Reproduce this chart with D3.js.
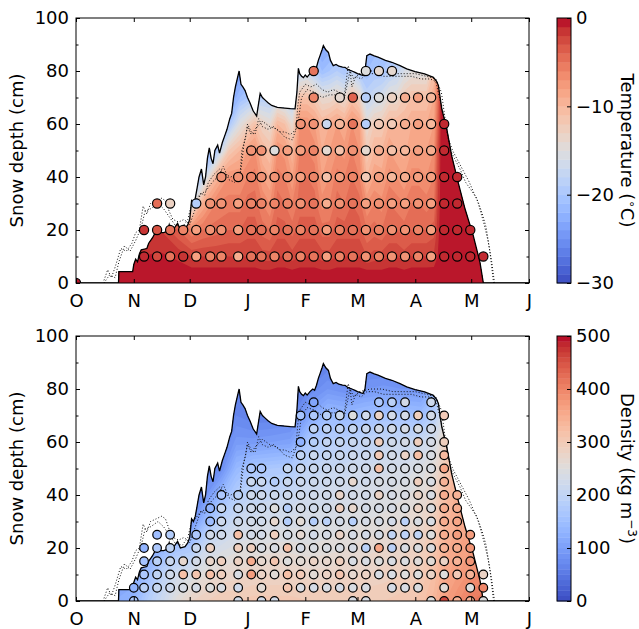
<!DOCTYPE html>
<html>
<head>
<meta charset="utf-8">
<script src="https://cdn.jsdelivr.net/npm/d3@7"></script>
<style>
body{margin:0;background:#fff;}
text{font-family:"DejaVu Sans",sans-serif;}
</style>
</head>
<body>
<script>
var N = null;

// x axis: days since 1 October
var monthDays = [0,31,61,92,123,151,182,212,243];
var monthLabels = ["O","N","D","J","F","M","A","M","J"];

// measured snow depth [day, cm]
var snowDepth = [[0,0],[22.8,0],[23,4.3],[30.4,4.3],[31,7],[32,9],[33,8],[34,11],[35,12.5],[38,13],[39,15],[41,17],
  [42.5,19],[47,19],[49,19.5],[50,22],[51,19.5],[53,21],[54.5,22.5],[56,20],[58.5,20.5],[60,22],[61,24],[62,31],
  [63,30],[64,32],[65,36],[66,40],[67.3,43],[68.5,37],[69.5,40],[70.5,47],[71.5,51],[72.5,47],[73.5,45],[74.5,50],
  [76,52],[77,49],[78.5,53],[80,56],[81,58],[82.5,62],[83.5,64],[84.5,70],[85.5,74],[86.5,77],[87.5,80],[88.5,75],
  [89.5,74],[90.7,72.6],[92,70],[93.3,68],[95,65],[96.9,63],[98,68],[98.8,71.5],[100,70],[101.5,69],[103,68],
  [105,67],[108,66.3],[112,66],[115,65.8],[117.5,65.7],[118.5,72],[119.3,81],[120,79],[121,78],[122,77.5],[123,78.5],
  [124,77.7],[125.5,79],[127,80],[128,79.5],[129,81.4],[130,84],[131,86],[132,88],[132.7,89.6],[134,88],[135.4,87],
  [136.5,84],[138,82],[139.5,82.5],[141,81.8],[143,81.5],[144.3,81.4],[146,80.5],[148,80],[149.7,79.5],[151,79],
  [153,78.5],[154,78.3],[155,80],[156,85.8],[157.7,86.4],[160,85.7],[162,85.2],[166,84],[169.4,83.3],[173.8,82],
  [177.4,80.8],[181.9,79.8],[187,78.9],[191.7,77.6],[193.5,76],[194.4,74.5],[196.2,65.7],[198.9,58.1],[201.5,48.1],
  [205,38],[208.7,27.9],[213.1,17.9],[216.7,7.8],[218.5,0],[243,0]];

// other depth sensors (dotted) [day, cm]
var depthA = [[15,1],[17,5],[19,2],[21,6],[24,13],[27,12],[30,15],[32,19],[34,20],[36,29],[38,26],[40,30],[43,31],
  [46,32],[48,31],[50,27],[52,24],[55,23],[58,24],[61,22],[63,26],[65,30],[67,34],[69,33],[71,38],[74,41],[77,43],
  [80,41],[83,40],[86,41],[88,41],[89,50],[91,55],[92,60],[94,57],[96,56],[98,62],[100,59],[103,58],[106,59],
  [109,57],[112,57],[115,56],[118,58],[119,67],[120,72],[123,75],[126,74],[129,75],[132,73],[135,72],[138,73],
  [141,72],[144,71],[146,82],[147,80],[148,74],[150,78],[153,77],[156,79],[160,79],[165,78],[170,78],[175,78],
  [180,78],[185,77],[190,77],[193,76],[195,70],[197,64],[199,57],[201,50],[203,47],[206,43],[209,38],[212,35],
  [215,32],[217,27],[219,22],[221,16],[223,8],[224.5,0]];
var depthB = [[15,0],[18,3],[21,2],[23,8],[26,14],[29,12],[32,16],[35,21],[37,27],[40,28],[44,30],[47,28],[50,25],
  [53,22],[57,21],[60,24],[62,30],[64,31],[66,33],[70,35],[73,38],[76,40],[79,44],[82,39],[85,38],[88,40],[90,52],
  [92,59],[94,56],[96,58],[100,61],[104,59],[108,58],[112,55],[116,54],[119,60],[121,70],[124,73],[128,72],
  [132,70],[136,71],[140,71],[144,70],[147,80],[149,77],[152,79],[158,80],[164,80],[170,79],[176,79],[182,79],
  [188,78],[193,77],[196,72],[198,62],[200,54],[202,50],[205,46],[208,42],[211,38],[214,33],[216,30],[218,26],
  [220,21],[222,12],[223.5,3],[224,0]];

// temperature field (deg C): one column per day, rows at tHeights
var tDays = [15,25,35,45,55,62,68,75,82,88,92,96,100,104,108,112,116,120,124,128,132,136,140,144,148,152,156,160,
  164,168,172,176,180,184,188,192,194,196,205,220,235];
var tHeights = [0,5,10,20,30,40,50,60,70,80,90];
var tField = [
  [-0.3,-0.5,-1,-2,-3,-3,-3,-3,-3,-3,-3],
  [-0.3,-0.5,-1,-2,-3,-3,-3,-3,-3,-3,-3],
  [-0.3,-0.5,-1,-2,-3,-3,-3,-3,-3,-3,-3],
  [-0.3,-0.5,-0.8,-2,-5,-5,-5,-5,-5,-5,-5],
  [-0.3,-0.6,-1.2,-4,-8,-8,-8,-8,-8,-8,-8],
  [-0.3,-0.8,-2,-6,-16,-21,-22,-22,-22,-22,-22],
  [-0.3,-0.8,-2,-5,-9,-18,-23,-23,-23,-23,-23],
  [-0.3,-0.8,-2,-4.5,-6,-10,-20,-24,-24,-24,-24],
  [-0.3,-0.8,-2,-4,-5.5,-7,-12,-20,-24,-24,-24],
  [-0.3,-0.8,-2,-4,-5.5,-7,-10,-15,-21,-24,-24],
  [-0.3,-0.8,-2,-3.5,-4.5,-6,-8,-13,-20,-23,-23],
  [-0.3,-0.8,-2,-3.5,-4.5,-5.5,-7,-11,-19,-22,-22],
  [-0.3,-1,-2.5,-4.5,-6,-8,-10,-13,-19,-22,-22],
  [-0.3,-1,-2.5,-5,-7,-9,-11,-14,-19,-22,-22],
  [-0.3,-0.8,-2,-3.5,-4.5,-5.5,-7,-10,-17,-21,-21],
  [-0.3,-0.8,-2,-3.5,-5,-6,-7.5,-11,-18,-21,-21],
  [-0.3,-1,-2.5,-4.5,-6,-8,-10,-14,-19,-22,-22],
  [-0.3,-0.8,-2,-3.5,-4.5,-5,-6,-7,-11,-18,-21],
  [-0.3,-0.8,-2,-3.5,-4.5,-5,-6,-7,-11,-17,-21],
  [-0.3,-0.8,-2,-3.5,-4.5,-5.5,-6.5,-8,-12,-19,-22],
  [-0.3,-1,-2.5,-4.5,-6.5,-8,-9,-10,-14,-21,-24],
  [-0.3,-1,-2.5,-4.5,-6,-7,-8,-9,-14,-20,-23],
  [-0.3,-0.8,-2,-3.5,-4.5,-5.5,-7,-8,-13,-19,-22],
  [-0.3,-0.8,-2,-3.5,-5,-6,-7.5,-9,-14,-20,-22],
  [-0.3,-0.8,-2,-3.5,-4,-5,-6,-7,-11,-18,-21],
  [-0.3,-0.8,-2,-3.5,-4.5,-6,-7,-8,-13,-20,-22],
  [-0.3,-1,-3,-5,-7,-10,-12,-14,-18,-21,-23],
  [-0.3,-1,-2.5,-4.5,-6,-8,-10,-12,-17,-20,-22],
  [-0.3,-1,-2.5,-5,-6.5,-8.5,-10,-12,-16,-20,-22],
  [-0.3,-0.8,-2,-4,-5,-6.5,-8,-10,-14,-19,-21],
  [-0.3,-0.8,-2,-4,-5.5,-7,-9,-10,-14,-18,-21],
  [-0.3,-1,-2.5,-4.5,-6,-8,-9.5,-10,-12,-16,-19],
  [-0.3,-0.8,-2,-4,-5,-6.5,-8,-9,-11,-15,-18],
  [-0.3,-0.8,-2,-4,-5,-6.5,-8,-9,-11,-15,-17],
  [-0.3,-0.8,-2,-4,-5.5,-7,-8,-9,-11,-15,-16],
  [-0.3,-0.8,-1.8,-3.5,-5,-6,-7,-8,-9,-11,-14],
  [-0.3,-0.5,-1,-1.5,-2,-2.5,-3,-4,-5,-6,-7],
  [-0.3,-0.3,-0.3,-0.3,-0.3,-0.3,-0.3,-0.3,-0.3,-0.3,-0.3],
  [-0.3,-0.3,-0.3,-0.3,-0.3,-0.3,-0.3,-0.3,-0.3,-0.3,-0.3],
  [-0.3,-0.3,-0.3,-0.3,-0.3,-0.3,-0.3,-0.3,-0.3,-0.3,-0.3],
  [-0.3,-0.3,-0.3,-0.3,-0.3,-0.3,-0.3,-0.3,-0.3,-0.3,-0.3]];

// manual temperature profiles (circles)
var tObsDays = [0,36.5,43.5,50.5,57.5,64.5,72,78,87,94,99.5,106.5,113.5,120.5,127.5,134.5,141.5,148.5,155.5,
  162.5,169.5,176.5,183.5,190.5,197.5,204.5,211.5,218.5];
var tObsHeights = [0,10,20,30,40,50,60,70,80];
var tObs = [
  [-0.5],
  [N,-1,-1.5],
  [N,-2.5,-3,-4.5],
  [N,-5,-5,-13],
  [N,-1.5,-6],
  [N,-8,-8,-19],
  [N,-6,-7,-7],
  [N,-6,-7,-7,-7],
  [N,-9,-8,-8,-7],
  [N,-5,-5,-6,-6,-7],
  [N,-5,-5,-6,-7,-7],
  [N,-6,-6,-6,-7,-15],
  [N,-5,-5,-6,-7,-8],
  [N,-6,-6,-7,-8,-8,-7],
  [N,-5,-5,-5,-6,-6,-7,-6,-5],
  [N,-8,-8,-9,-11,-14,-17],
  [N,-6,-6,-7,-8,-11,-10,-14],
  [N,-5,-5,-5,-6,-7,-5,-4],
  [N,-7,-7,-8,-12,-14,-19,-19,-15],
  [N,-6,-6,-7,-8,-9,-12,-15,-14],
  [N,-7,-7,-8,-10,-11,-12,-13,-14],
  [N,-7,-7,-8,-9,-10,-9,-9],
  [N,-6,-6,-7,-8,-8,-8,-8],
  [N,-8,-8,-8,-8,-9,-10,-10],
  [N,-1,-1,-1,-1,-1,-1],
  [N,-1,-1,-1,-1],
  [N,-1,-1],
  [N,-1]];

// density field (kg m-3)
var dDays = [20,30,38,46,54,62,70,78,86,95,105,115,125,135,145,155,165,175,185,192,198,205,212,220,235];
var dHeights = [0,10,20,30,40,50,60,70,80,90];
var dField = [
  [120,110,100,90,90,90,90,90,90,90],
  [130,110,100,90,90,90,90,90,90,90],
  [180,150,110,90,90,90,90,90,90,90],
  [215,195,130,90,80,80,80,80,80,80],
  [255,225,160,100,80,80,80,80,80,80],
  [280,240,170,90,60,60,60,60,60,60],
  [290,260,220,150,90,60,60,60,60,60],
  [300,270,235,195,140,80,60,60,60,60],
  [300,275,245,215,180,140,95,70,60,60],
  [305,280,250,225,200,165,95,60,60,60],
  [305,280,255,232,205,170,100,60,60,60],
  [305,280,255,235,210,175,105,65,60,60],
  [300,275,252,237,220,200,170,110,70,60],
  [300,275,255,240,225,210,185,145,90,60],
  [300,280,260,245,230,215,190,140,80,60],
  [300,280,265,250,235,222,200,150,90,60],
  [300,285,270,255,240,227,205,160,95,60],
  [305,290,275,262,247,232,210,160,90,60],
  [315,300,287,272,257,242,215,150,90,70],
  [335,322,307,292,277,258,232,185,130,90],
  [370,355,345,335,325,305,280,250,200,160],
  [390,370,360,352,345,335,320,300,280,260],
  [410,385,370,360,350,340,330,320,300,280],
  [420,395,380,370,360,350,340,330,320,300],
  [420,395,380,370,360,350,340,330,320,300]];

// manual density profiles (circles)
var dObsDays = [31,36.5,43.5,50.5,57.5,64.5,72,78,87,94,99.5,106.5,113.5,120.5,127.5,134.5,141.5,148.5,155.5,
  162.5,169.5,176.5,183.5,190.5,197.5,204.5,211.5,218.5];
var dObsHeights = [0,5,10,15,20,25,30,35,40,45,50,55,60,65,70,75];
var dObs = [
  [170,130],
  [N,190,170,160,130],
  [N,210,200,190,170,150],
  [N,220,225,215,200,180],
  [N,235,320,270],
  [N,235,310,230,215,170],
  [N,250,320,275,285,225,150,130],
  [N,240,290,290,N,225,220,215,170],
  [230,225,240,285,290,320,225,215,190],
  [N,N,370,350,290,230,230,225,220,215,170],
  [230,260,280,270,240,230,225,220,220,215,170],
  [230,N,260,310,240,290,270,250,220,180],
  [N,310,320,250,320,235,180,185,220,215,210],
  [N,240,300,260,235,265,260,235,225,220,220,200,130,N,160],
  [N,235,260,280,240,230,180,225,225,220,215,215,185,200,170,110],
  [N,240,280,270,240,235,190,225,225,220,215,210,205,200,185],
  [N,235,310,290,240,280,230,290,275,225,220,215,210,205,215],
  [240,240,265,240,235,235,185,270,230,270,225,220,215,210,250],
  [240,240,280,240,190,230,235,230,230,225,225,220,215,215,225],
  [N,N,240,250,360,235,235,235,280,240,320,300,290,230,280,170],
  [N,235,240,240,190,200,230,235,235,235,230,230,225,230,230,190],
  [N,240,250,245,240,195,190,240,240,240,240,280,235,235,235,230],
  [N,245,250,255,245,200,240,280,280,290,240,320,290,240,290],
  [250,N,280,260,245,250,240,245,240,240,240,240,235,230,230,220],
  [460,260,250,280,340,350,350,350,350,340,360,330,290,N,300],
  [340,N,300,340,350,370,360,350,340],
  [340,250,340,380,380,370],
  [250,400,280]];

var yTicks = [0,20,40,60,80,100];
var yMinor = [10,30,50,70,90];

// matplotlib coolwarm
var cwStops = [[59,76,192],[68,90,204],[77,104,215],[87,117,225],[98,130,234],[108,142,241],[119,154,247],
  [130,165,251],[141,176,254],[152,185,255],[163,194,255],[174,201,253],[184,208,249],[194,213,244],[204,217,238],
  [213,219,230],[221,221,221],[229,216,209],[236,211,197],[241,204,185],[245,196,173],[247,187,160],[247,177,148],
  [247,166,135],[244,154,123],[241,141,111],[236,127,99],[229,112,88],[222,96,77],[213,80,66],[203,62,56],
  [192,40,47],[180,4,38]];
var coolwarm = d3.scaleLinear()
    .domain(cwStops.map(function(d,i){return i/(cwStops.length-1);}))
    .range(cwStops.map(function(c){return "rgb("+c[0]+","+c[1]+","+c[2]+")";}))
    .clamp(true);

var W = 639, H = 629, left = 76, right = 529;
var cbX = 557, cbW = 14;

var svg = d3.select("body").append("svg").attr("width",W).attr("height",H);

var x = d3.scaleLinear().domain([0,243]).range([left,right]);

var panels = [
  {id:"t", top:18, bottom:283, fDays:tDays, fHeights:tHeights, field:tField,
   oDays:tObsDays, oHeights:tObsHeights, obs:tObs, r:4.6,
   vmin:-30, vmax:0, step:1, cbTicks:[-30,-20,-10,0], label:"temp"},
  {id:"d", top:336, bottom:601, fDays:dDays, fHeights:dHeights, field:dField,
   oDays:dObsDays, oHeights:dObsHeights, obs:dObs, r:4.3,
   vmin:0, vmax:500, step:10, cbTicks:[0,100,200,300,400,500], label:"dens"}
];

var defs = svg.append("defs");

panels.forEach(function(p){
  var y = d3.scaleLinear().domain([0,100]).range([p.bottom,p.top]);
  var norm = d3.scaleLinear().domain([p.vmin,p.vmax]).range([0,1]);
  var colorOf = function(v){return coolwarm(norm(v));};

  defs.append("clipPath").attr("id","snow"+p.id).append("path")
      .attr("d", d3.area().x(function(d){return x(d[0]);}).y0(y(0)).y1(function(d){return y(d[1]);})(snowDepth));
  defs.append("clipPath").attr("id","box"+p.id).append("rect")
      .attr("x",left).attr("y",p.top).attr("width",right-left).attr("height",p.bottom-p.top);

  // filled contours of the field
  var n = p.fDays.length, m = p.fHeights.length;
  var values = [];
  for (var j=0;j<m;j++) for (var i=0;i<n;i++) values.push(p.field[i][j]);
  var ix = d3.scaleLinear().domain(d3.range(n)).range(p.fDays);
  var iy = d3.scaleLinear().domain(d3.range(m)).range(p.fHeights);
  var proj = d3.geoTransform({point:function(a,b){this.stream.point(x(ix(a-0.5)), y(iy(b-0.5)));}});
  var levels = d3.range(p.vmin, p.vmax, p.step);
  var bands = d3.contours().size([n,m]).thresholds(levels)(values);
  svg.append("g").attr("clip-path","url(#snow"+p.id+")")
    .selectAll("path").data(bands).enter().append("path")
      .attr("d", d3.geoPath(proj))
      .attr("fill", function(d){return colorOf(d.value + p.step/2);});

  // depth lines
  var line = d3.line().x(function(d){return x(d[0]);}).y(function(d){return y(d[1]);});
  var lg = svg.append("g").attr("clip-path","url(#box"+p.id+")");
  [depthA, depthB].forEach(function(dd){
    lg.append("path").attr("d", line(dd)).attr("fill","none")
      .attr("stroke","#111").attr("stroke-width",1).attr("stroke-dasharray","1,2");
  });
  lg.append("path").attr("d", line(snowDepth)).attr("fill","none")
    .attr("stroke","#000").attr("stroke-width",1.3);

  // circles
  var pts = [];
  p.obs.forEach(function(col,i){
    col.forEach(function(v,k){
      if (v !== null && v !== undefined) pts.push({day:p.oDays[i], h:p.oHeights[k], v:v});
    });
  });
  lg.selectAll("circle").data(pts).enter().append("circle")
      .attr("cx", function(d){return x(d.day);})
      .attr("cy", function(d){return y(d.h);})
      .attr("r", p.r)
      .attr("fill", function(d){return colorOf(d.v);})
      .attr("stroke","#000").attr("stroke-width",1.2);

  // axes
  var fs = "18px";
  var ax = svg.append("g").attr("transform","translate("+left+",0)")
      .call(d3.axisLeft(y).tickValues(yTicks).tickSize(-4).tickPadding(7).tickFormat(d3.format("d")));
  var axm = svg.append("g").attr("transform","translate("+left+",0)")
      .call(d3.axisLeft(y).tickValues(yMinor).tickSize(-2.5).tickFormat(""));
  var axr = svg.append("g").attr("transform","translate("+right+",0)")
      .call(d3.axisRight(y).tickValues(yTicks).tickSize(-4).tickFormat(""));
  var axrm = svg.append("g").attr("transform","translate("+right+",0)")
      .call(d3.axisRight(y).tickValues(yMinor).tickSize(-2.5).tickFormat(""));
  var bx = svg.append("g").attr("transform","translate(0,"+p.bottom+")")
      .call(d3.axisBottom(x).tickValues(monthDays).tickSize(-4).tickPadding(11)
        .tickFormat(function(d,i){return monthLabels[i];}));
  var tx = svg.append("g").attr("transform","translate(0,"+p.top+")")
      .call(d3.axisTop(x).tickValues(monthDays).tickSize(-4).tickFormat(""));
  [ax,axm,axr,axrm,bx,tx].forEach(function(g){
    g.select(".domain").remove();
    g.selectAll("line").attr("stroke","#000");
    g.selectAll("text").attr("font-size",fs).attr("font-family","DejaVu Sans").attr("fill","#000");
  });

  svg.append("rect").attr("x",left).attr("y",p.top).attr("width",right-left).attr("height",p.bottom-p.top)
    .attr("fill","none").attr("stroke","#000").attr("stroke-width",1);

  svg.append("text").attr("transform","translate(23,"+((p.top+p.bottom)/2)+") rotate(-90)")
    .attr("text-anchor","middle").attr("font-size",fs).text("Snow depth (cm)");

  // colorbar
  var cy = d3.scaleLinear().domain([p.vmin,p.vmax]).range([p.bottom,p.top]);
  svg.append("g").selectAll("rect").data(levels).enter().append("rect")
      .attr("x",cbX).attr("width",cbW)
      .attr("y",function(d){return cy(d+p.step);})
      .attr("height",function(d){return cy(d)-cy(d+p.step)+0.4;})
      .attr("fill",function(d){return colorOf(d+p.step/2);});
  svg.append("rect").attr("x",cbX).attr("y",p.top).attr("width",cbW).attr("height",p.bottom-p.top)
    .attr("fill","none").attr("stroke","#000").attr("stroke-width",1);
  var cax = svg.append("g").attr("transform","translate("+(cbX+cbW)+",0)")
      .call(d3.axisRight(cy).tickValues(p.cbTicks).tickSize(-4).tickPadding(5).tickFormat(d3.format("d")));
  cax.select(".domain").remove();
  cax.selectAll("line").attr("stroke","#000");
  cax.selectAll("text").attr("font-size",fs).attr("font-family","DejaVu Sans").attr("fill","#000");

  var lt = svg.append("text")
    .attr("transform","translate(621,"+((p.top+p.bottom)/2)+") rotate(90)")
    .attr("text-anchor","middle").attr("font-size",fs);
  if (p.label === "temp") {
    lt.append("tspan").text("Temperature (");
    lt.append("tspan").attr("font-size","12px").attr("dy","-7").text("\u2218");
    lt.append("tspan").attr("dy","7").text("C)");
  } else {
    lt.append("tspan").text("Density (kg m");
    lt.append("tspan").attr("font-size","12px").attr("dy","-7").text("\u22123");
    lt.append("tspan").attr("dy","7").text(")");
  }
});
</script>
</body>
</html>
